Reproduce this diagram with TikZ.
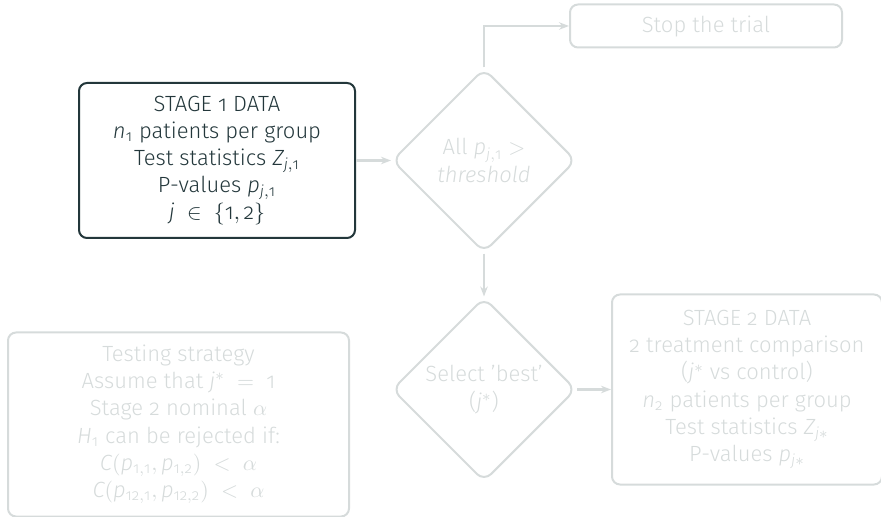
\documentclass[tikz,border=0pt]{standalone}
\usepackage{fontspec}
\setmainfont{Fira Sans Light}[Numbers=OldStyle]
\usepackage{tikz}
\usetikzlibrary{shapes.geometric, arrows.meta, positioning}
\definecolor{darkteal}{HTML}{23373B}
\definecolor{faded}{HTML}{D6DBDB}
\newcommand{\mv}[1]{\mathit{#1}}
\newcommand{\dg}[1]{\mathrm{#1}}

\begin{document}
\begin{tikzpicture}[
  x=0.5pt, y=-0.5pt,
  box/.style={draw=#1, text=#1, rounded corners=4pt, line width=1pt, align=center,
              font=\fontsize{11}{13.6}\selectfont},
  decision/.style={diamond, draw=faded, text=faded, rounded corners=5pt, line width=1pt,
                   minimum width=92pt, minimum height=92pt, inner sep=0pt, align=center,
                   font=\fontsize{11}{13.6}\selectfont},
  arr/.style={-{Stealth[length=5pt]}, line width=1.2pt, faded},
]
  \useasboundingbox (0,0) rectangle (881,517);

  \node[box=darkteal, minimum width=138pt, minimum height=77.5pt] (s1) at (217,160.5)
    {STAGE 1 DATA\\ $\mv{n}_{\dg{1}}$ patients per group\\ Test statistics $\mv{Z}_{\mv{j},\dg{1}}$\\
     P-values $\mv{p}_{\mv{j},\dg{1}}$\\ $\mv{j}\ \in\ \{\dg{1},\dg{2}\}$};
  \node[decision, right=17.5pt of s1] (dec1) {All $\mv{p}_{\mv{j},\dg{1}} >$\\ \textit{threshold}};
  \node[box=faded, minimum width=136pt, minimum height=21.5pt,
        above right=9.5pt and 42.5pt of dec1.north] (stop) {Stop the trial};

  \node[decision, below=21.5pt of dec1] (dec2) {Select 'best'\\ ($\mv{j}^*$)};
  \node[box=faded, minimum width=135pt, minimum height=95pt, right=17pt of dec2] (s2)
    {STAGE 2 DATA\\ 2 treatment comparison\\ ($\mv{j}^*$ vs control)\\
     $\mv{n}_{\dg{2}}$ patients per group\\ Test statistics $\mv{Z}_{\mv{j}*}$\\ P-values $\mv{p}_{\mv{j}*}$};
  \node[box=faded, minimum width=170.5pt, minimum height=92pt, left=20.5pt of dec2,
        yshift=-17.5pt] (test)
    {Testing strategy\\ Assume that $\mv{j}^*\ =\ \dg{1}$\\ Stage 2 nominal $\alpha$\\
     $\mv{H}_{\dg{1}}$ can be rejected if:\\ $\mv{C}(\mv{p}_{\dg{1},\dg{1}},\mv{p}_{\dg{1},\dg{2}})\ <\ \alpha$\\
     $\mv{C}(\mv{p}_{\dg{12},\dg{1}},\mv{p}_{\dg{12},\dg{2}})\ <\ \alpha$};

  \draw[arr] (s1) -- (dec1);
  \draw[arr] (dec1.north) |- (stop);
  \draw[arr] (dec1) -- (dec2);
  \draw[arr] (dec2) -- (s2);
\end{tikzpicture}
\end{document}
